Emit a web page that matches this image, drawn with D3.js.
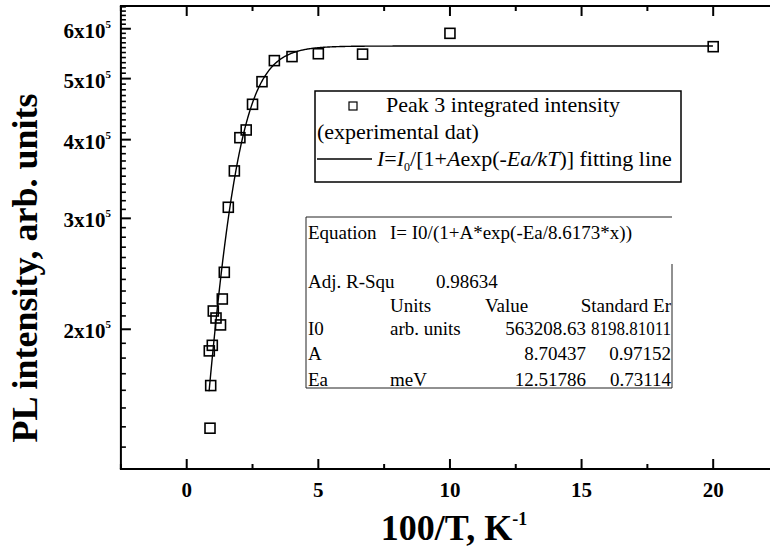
<!DOCTYPE html>
<html>
<head>
<meta charset="utf-8">
<script src="https://cdn.jsdelivr.net/npm/d3@7"></script>
<style>
  html, body { margin: 0; padding: 0; background: #fff; }
  svg { display: block; }
  text { font-family: "Liberation Serif", "Times New Roman", serif; fill: #000; }
</style>
</head>
<body>
<svg id="chart" width="770" height="549"></svg>
<script>
// Peak 3 integrated PL intensity versus inverse temperature (100/T)
const invTemp = [0.885, 0.911, 0.858, 0.972, 1.01, 1.113, 1.284, 1.352, 1.428, 1.58,
                 1.81, 2.02, 2.26, 2.50, 2.86, 3.33, 4.00, 5.00, 6.68, 10.0, 20.0];
const intensity = [139300, 162800, 184800, 188600, 213800, 208400, 203200, 223400, 246300, 312400,
                   356800, 402900, 414400, 455200, 494400, 534000, 541900, 547600, 546800, 590000, 561900];

// Fit parameters: I0 (arb. units), A, Ea (meV)
const fitNames = ["I0", "A", "Ea"];
const fitUnits = ["arb. units", "", "meV"];
const fitValues = [563208.63, 8.70437, 12.51786];
const fitValueText = ["563208.63", "8.70437", "12.51786"];
const fitErrText = ["8198.81011", "0.97152", "0.73114"];
const fitRange = [0.85, 20];
const adjR2 = "0.98634";

const xTicksMajor = [0, 5, 10, 15, 20];
const xTicksMinor = [-2.5, 2.5, 7.5, 12.5, 17.5, 22.5];
const yTicksMajor = [2e5, 3e5, 4e5, 5e5, 6e5];
const yTickLabels = ["2x10", "3x10", "4x10", "5x10", "6x10"];
const yTickExp = "5";

const svg = d3.select("#chart");

const x = d3.scaleLinear().domain([-2.5, 22.5]).range([120.9, 779]);
const y = d3.scaleLog().domain([1.2e5, 6.52e5]).range([469, 6]);

const xL = x.range()[0], xR = x.range()[1];
const yT = y.range()[1], yB = y.range()[0];

// frame (bottom and top axes lines, left axis)
const frame = svg.append("g").attr("stroke", "#000").attr("stroke-width", 2).attr("fill", "none");
frame.append("line").attr("x1", xL - 1).attr("x2", xR).attr("y1", yB).attr("y2", yB);
frame.append("line").attr("x1", xL - 1).attr("x2", xR).attr("y1", yT).attr("y2", yT);
frame.append("line").attr("x1", xL).attr("x2", xL).attr("y1", yT).attr("y2", yB);

// x ticks (inward, on bottom and top)
const ticks = svg.append("g").attr("stroke", "#000").attr("stroke-width", 2);
xTicksMajor.forEach(v => {
  ticks.append("line").attr("x1", x(v)).attr("x2", x(v)).attr("y1", yB).attr("y2", yB - 10);
  ticks.append("line").attr("x1", x(v)).attr("x2", x(v)).attr("y1", yT).attr("y2", yT + 10);
});
xTicksMinor.forEach(v => {
  ticks.append("line").attr("x1", x(v)).attr("x2", x(v)).attr("y1", yB).attr("y2", yB - 5);
  ticks.append("line").attr("x1", x(v)).attr("x2", x(v)).attr("y1", yT).attr("y2", yT + 5);
});

// y ticks: major at each 1e5, minor every 1e4
const yMinor = d3.range(12, 66).map(k => k * 1e4).filter(v => v % 1e5 !== 0);
yMinor.forEach(v => {
  ticks.append("line").attr("x1", xL).attr("x2", xL + 5).attr("y1", y(v)).attr("y2", y(v)).attr("stroke-width", 1.6);
});
yTicksMajor.forEach(v => {
  ticks.append("line").attr("x1", xL).attr("x2", xL + 10).attr("y1", y(v)).attr("y2", y(v));
});

// x tick labels
svg.append("g").selectAll("text").data(xTicksMajor).join("text")
  .attr("x", d => x(d)).attr("y", 497)
  .attr("text-anchor", "middle")
  .attr("font-size", 21).attr("font-weight", "bold")
  .text(d => d);

// y tick labels with superscript exponent
const yl = svg.append("g").selectAll("text").data(yTicksMajor).join("text")
  .attr("x", 111).attr("y", d => y(d) + 9)
  .attr("text-anchor", "end")
  .attr("font-size", 21).attr("font-weight", "bold");
yl.append("tspan").text((d, i) => yTickLabels[i]);
yl.append("tspan").attr("font-size", 11).attr("dy", -10).text(yTickExp);

// axis titles
const xt = svg.append("text").attr("x", 454).attr("y", 540)
  .attr("text-anchor", "middle").attr("font-size", 36).attr("font-weight", "bold");
xt.append("tspan").text("100/T, K");
xt.append("tspan").attr("font-size", 18).attr("dy", -15).text("-1");

svg.append("text")
  .attr("transform", "translate(37,268) rotate(-90)")
  .attr("text-anchor", "middle").attr("font-size", 36).attr("font-weight", "bold")
  .text("PL intensity, arb. units");

// fitted curve I = I0 / (1 + A exp(-Ea x / 8.6173))
const [I0, A, Ea] = fitValues;
const fitX = d3.range(fitRange[0], fitRange[1] + 1e-9, 0.02);
const fitLine = d3.line()
  .x(d => x(d))
  .y(d => y(I0 / (1 + A * Math.exp(-Ea / 8.6173 * d))));
svg.append("path").datum(fitX)
  .attr("d", fitLine)
  .attr("fill", "none").attr("stroke", "#000").attr("stroke-width", 1.4);

// experimental points
const pts = invTemp.map((v, i) => [v, intensity[i]]);
svg.append("g").selectAll("rect").data(pts).join("rect")
  .attr("x", d => x(d[0]) - 5).attr("y", d => y(d[1]) - 5)
  .attr("width", 10).attr("height", 10)
  .attr("fill", "none").attr("stroke", "#000").attr("stroke-width", 1.6);

// legend
const lg = svg.append("g");
lg.append("rect").attr("x", 315).attr("y", 91).attr("width", 366).attr("height", 91)
  .attr("fill", "#fff").attr("stroke", "#000").attr("stroke-width", 1.5);
lg.append("rect").attr("x", 349).attr("y", 102).attr("width", 8).attr("height", 8)
  .attr("fill", "none").attr("stroke", "#000").attr("stroke-width", 1.2);
lg.append("text").attr("x", 386).attr("y", 112).attr("font-size", 22).text("Peak 3 integrated intensity");
lg.append("text").attr("x", 317).attr("y", 139).attr("font-size", 22).text("(experimental dat)");
lg.append("line").attr("x1", 317).attr("x2", 372).attr("y1", 159).attr("y2", 159)
  .attr("stroke", "#000").attr("stroke-width", 1.4);
const eq = lg.append("text").attr("x", 377).attr("y", 166).attr("font-size", 22);
eq.append("tspan").attr("font-style", "italic").text("I");
eq.append("tspan").text("=");
eq.append("tspan").attr("font-style", "italic").text("I");
eq.append("tspan").attr("font-size", 12).attr("dy", 5).text("0");
eq.append("tspan").attr("dy", -5).text("/[1+");
eq.append("tspan").attr("font-style", "italic").text("A");
eq.append("tspan").text("exp(-");
eq.append("tspan").attr("font-style", "italic").text("Ea/kT");
eq.append("tspan").text(")] fitting line");

// fit results table
const tb = svg.append("g");
const tl = tb.append("g").attr("stroke", "#222").attr("stroke-width", 1);
tl.append("line").attr("x1", 306).attr("x2", 672).attr("y1", 217).attr("y2", 217);
tl.append("line").attr("x1", 306).attr("x2", 306).attr("y1", 217).attr("y2", 388);
tl.append("line").attr("x1", 306).attr("x2", 672).attr("y1", 388).attr("y2", 388);
tl.append("line").attr("x1", 672).attr("x2", 672).attr("y1", 264).attr("y2", 388);

const fs = 19;
function cell(tx, ty, s, anchor, fit) {
  const t = tb.append("text").attr("x", tx).attr("y", ty).attr("font-size", fs)
    .attr("text-anchor", anchor || "start").text(s);
  if (fit) t.attr("textLength", fit).attr("lengthAdjust", "spacingAndGlyphs");
}
cell(308, 239, "Equation");
cell(390, 239, "I= I0/(1+A*exp(-Ea/8.6173*x))");
cell(308, 288, "Adj. R-Squ");
cell(436, 288, adjR2);
cell(390, 312, "Units");
cell(485, 312, "Value");
cell(671, 312, "Standard Er", "end");
const rowY = [335, 360, 386];
fitNames.forEach((n, i) => {
  cell(308, rowY[i], n);
  cell(390, rowY[i], fitUnits[i]);
  cell(586, rowY[i], fitValueText[i], "end");
  // the long standard error is squeezed into its column
  cell(671, rowY[i], fitErrText[i], "end", fitErrText[i].length > 8 ? 80 : null);
});
</script>
</body>
</html>
